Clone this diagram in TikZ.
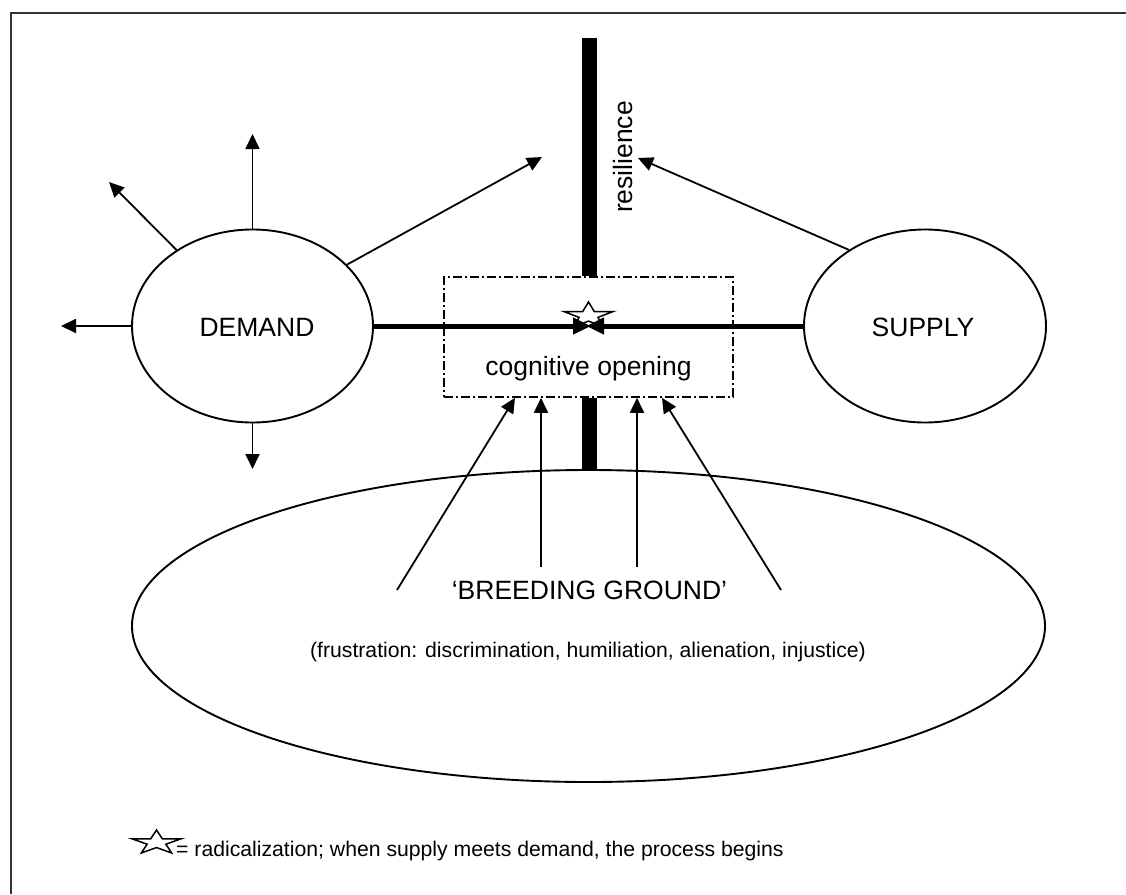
\documentclass[tikz,border=0pt]{standalone}
\usepackage{fontspec}
\setmainfont{Liberation Sans}
\usetikzlibrary{arrows.meta,shapes.geometric}
\tikzset{
  thin arrow/.style={line width=1.8pt,-{Triangle[length=15pt,width=14pt]}},
  thick arrow/.style={line width=5pt,-{Triangle[length=18pt,width=16pt]}},
  bar/.style={line width=15pt},
  oval/.style={ellipse,draw,line width=1.9pt,inner sep=0pt,fill=white},
  bigfont/.style={font=\fontsize{26.5}{30}\selectfont},
  smallfont/.style={font=\fontsize{21.2}{24}\selectfont},
  dashdotbox/.style={draw,line width=1.6pt,dash pattern=on 9pt off 3pt on 2pt off 3pt,
     minimum width=289pt,minimum height=120pt,inner sep=0pt},
  fstar/.pic={\draw[line width=1.5pt,fill=white,line join=miter]
    (90:1) -- (126:.382) -- (162:1) -- (198:.382) -- (234:1) -- (270:.382)
    -- (306:1) -- (342:.382) -- (18:1) -- (54:.382) -- cycle;}
}
\begin{document}
\begin{tikzpicture}[x=1pt,y=-1pt]
\useasboundingbox (0,0) rectangle (1126,894);
% frame (top and left visible)
\draw[line width=1.5pt,black!80] (1126,13) -- (11,13) -- (11,894);

% big breeding ground ellipse
\node[oval,minimum width=913pt,minimum height=312pt] (B) at (588.5,626) {};
\node[bigfont,anchor=base] (bg) at (589.5,599) {‘BREEDING GROUND’};
\node[smallfont,anchor=base] (fr) at (588,657) {(frustration: discrimination, humiliation, alienation, injustice)};

% cognitive opening box
\node[dashdotbox] (co) at (588.5,337) {};
\node[bigfont,anchor=base] (cot) at (588.5,375) {cognitive opening};

% resilience bar
\coordinate (bartop) at (589,38);
\draw[bar] (bartop) -- (co.north -| bartop);
\draw[bar] (co.south -| bartop) -- (B.north -| bartop);
\node[bigfont,rotate=90,anchor=base] (res) at (632,157) {resilience};

% demand and supply
\node[oval,minimum width=241pt,minimum height=193pt] (D) at (252.5,326) {};
\node[bigfont,anchor=base] (Dt) at (257,336.5) {DEMAND};
\node[oval,minimum width=242pt,minimum height=193pt] (S) at (925,326) {};
\node[bigfont,anchor=base] (St) at (923,336.5) {SUPPLY};

% star marker
\pic[xscale=25.8,yscale=-13.8] (mstar) at (588.5,315.8) {fstar};

% meeting arrows
\coordinate (meetL) at (591,326);
\coordinate (meetR) at (586,326);
\draw[thick arrow] (D.east) -- (meetL);
\draw[thick arrow] (S.west) -- (meetR);

% demand arrows
\coordinate (dUp) at (252.5,134);
\coordinate (dUL) at (109,182);
\coordinate (dL) at (61,326);
\coordinate (dDn) at (252.5,469);
\coordinate (dUR) at (542,157);
\draw[thin arrow] (D.north) -- (dUp);
\draw[thin arrow] (D.135) -- (dUL);
\draw[thin arrow] (D.west) -- (dL);
\draw[thin arrow] (D.south) -- (dDn);
\draw[thin arrow] (D.33) -- (dUR);

% supply arrow
\coordinate (sEnd) at (638,158);
\draw[thin arrow] (S.135) -- (sEnd);

% breeding ground arrows
\coordinate (b1) at (397,590);
\coordinate (b2) at (541,567);
\coordinate (b3) at (637,567);
\coordinate (b4) at (781,590);
\draw[thin arrow] (b1) -- (515,397.5 |- co.south);
\draw[thin arrow] (b2) -- (b2 |- co.south);
\draw[thin arrow] (b3) -- (b3 |- co.south);
\draw[thin arrow] (b4) -- (662,397.5 |- co.south);

% legend
\pic[xscale=25.8,yscale=-12.7] (lstar) at (156.5,842.7) {fstar};
\node[smallfont,anchor=base west,inner sep=0pt] (leg) at (176,856.5) {= radicalization; when supply meets demand, the process begins};
\end{tikzpicture}
\end{document}
